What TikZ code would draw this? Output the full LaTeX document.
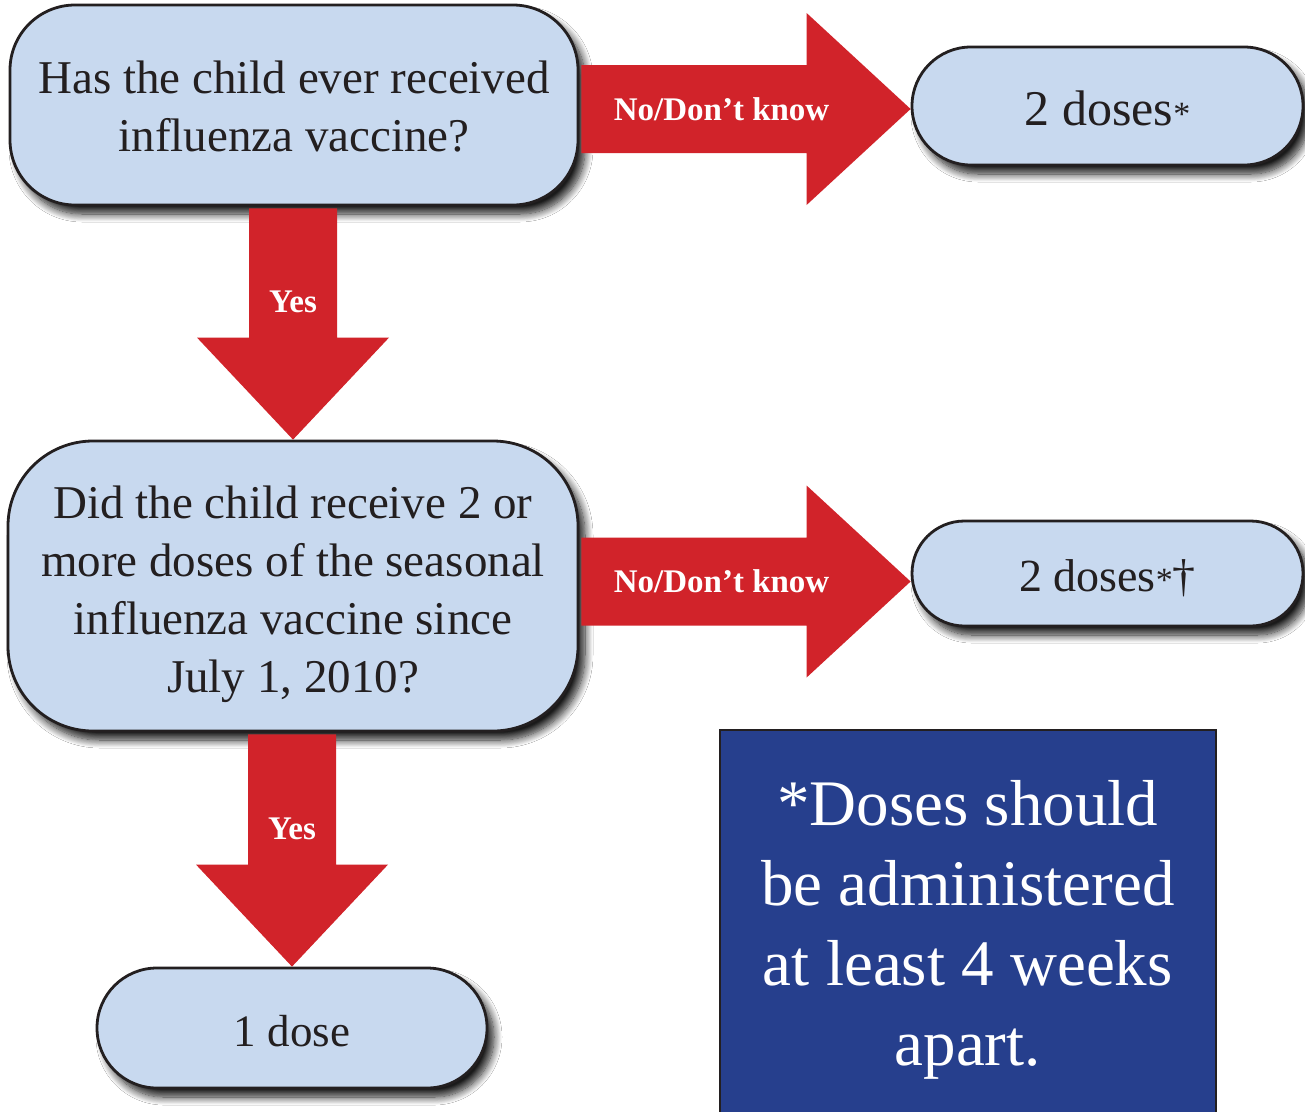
\documentclass[tikz,border=0pt]{standalone}
\usepackage{fontspec}
\setmainfont{Liberation Serif}
\usetikzlibrary{calc,shadows.blur}
\definecolor{boxfill}{RGB}{200,217,239}
\definecolor{boxline}{RGB}{35,31,32}
\definecolor{arrowred}{RGB}{209,35,42}
\definecolor{noteblue}{RGB}{38,63,141}
\newcommand\lowered[2]{\raisebox{-#1}[\height][\depth]{\begin{tabular}{@{}c@{}}#2\end{tabular}}}
\newcommand\smallast{{\fontsize{34}{34}\selectfont *}}
\tikzset{
  qbox/.style={draw=boxline, line width=2.8pt, fill=boxfill, align=center, inner sep=0pt, text=boxline,
    blur shadow={shadow xshift=7pt, shadow yshift=-9pt, shadow blur radius=8pt, shadow blur steps=12, shadow opacity=90}},
  arrlabel/.style={text=white, font=\bfseries\fontsize{33}{33}\selectfont},
  bigarrow/.style={fill=arrowred},
  notebox/.style={draw=boxline, line width=1.6pt, fill=noteblue, text=white, align=center, inner sep=0pt,
    font=\fontsize{65}{80}\selectfont}
}
\begin{document}
\begin{tikzpicture}[x=1pt,y=-1pt]
\useasboundingbox (0,0) rectangle (1305,1111);
\fill[white] (0,0) rectangle (1305,1111);

\node[qbox, rounded corners=65pt, minimum width=568pt, minimum height=200pt,
  font=\fontsize{47}{58}\selectfont] (q1) at (294,105) {\lowered{6pt}{Has the child ever received\\influenza vaccine?}};
\node[qbox, rounded corners=58.9pt, minimum width=391pt, minimum height=118pt,
  font=\fontsize{50}{58}\selectfont] (d1) at (1107.5,106) {\lowered{8pt}{2 doses\smallast}};
\node[qbox, rounded corners=85pt, minimum width=570pt, minimum height=290pt,
  font=\fontsize{47}{58}\selectfont] (q2) at (293,586) {\lowered{8pt}{Did the child receive 2 or\\more doses of the seasonal\\influenza vaccine since\\July 1, 2010?}};
\node[qbox, rounded corners=52.4pt, minimum width=391pt, minimum height=105pt,
  font=\fontsize{46}{58}\selectfont] (d2) at (1107.5,573.5) {\lowered{6pt}{2 doses\smallast†}};
\node[qbox, rounded corners=59.9pt, minimum width=390pt, minimum height=120pt,
  font=\fontsize{45}{58}\selectfont] (one) at (292,1028) {\lowered{7pt}{1 dose}};

\node[notebox, minimum width=496pt, minimum height=400pt, anchor=north west] (note) at (719,729)
  {*Doses should\\be administered\\at least 4 weeks\\apart.};

% horizontal arrow 1
\fill[bigarrow] let \p1=(q1.east), \p2=(d1.west) in
  (\x1+2pt,\y2-3pt+44pt) -- (\x2-104pt,\y2-3pt+44pt) -- (\x2-104pt,\y2-3pt+96pt) -- (\x2,\y2-3pt)
  -- (\x2-104pt,\y2-3pt-96pt) -- (\x2-104pt,\y2-3pt-44pt) -- (\x1+2pt,\y2-3pt-44pt) -- cycle
  node[arrlabel] at (\x2-189pt,\y2-3pt) {No/Don’t know};
% vertical arrow 1
\fill[bigarrow] let \p1=(q1.south), \p2=(q2.north) in
  (\x2-44pt,\y1-2pt) -- (\x2-44pt,\y2+102pt) -- (\x2-96pt,\y2+102pt) -- (\x2,\y2)
  -- (\x2+96pt,\y2+102pt) -- (\x2+44pt,\y2+102pt) -- (\x2+44pt,\y1-2pt) -- cycle
  node[arrlabel] at (\x2,\y2+138pt) {Yes};
% horizontal arrow 2
\fill[bigarrow] let \p1=(q2.east), \p2=(d2.west) in
  (\x1+2pt,\y2-8pt+44pt) -- (\x2-104pt,\y2-8pt+44pt) -- (\x2-104pt,\y2-8pt+96pt) -- (\x2,\y2-8pt)
  -- (\x2-104pt,\y2-8pt-96pt) -- (\x2-104pt,\y2-8pt-44pt) -- (\x1+2pt,\y2-8pt-44pt) -- cycle
  node[arrlabel] at (\x2-189pt,\y2-8pt) {No/Don’t know};
% vertical arrow 2
\fill[bigarrow] let \p1=(q2.south), \p2=(one.north) in
  (\x2-44pt,\y1-2pt) -- (\x2-44pt,\y2+102pt) -- (\x2-96pt,\y2+102pt) -- (\x2,\y2)
  -- (\x2+96pt,\y2+102pt) -- (\x2+44pt,\y2+102pt) -- (\x2+44pt,\y1-2pt) -- cycle
  node[arrlabel] at (\x2,\y2+138pt) {Yes};
\end{tikzpicture}
\end{document}
